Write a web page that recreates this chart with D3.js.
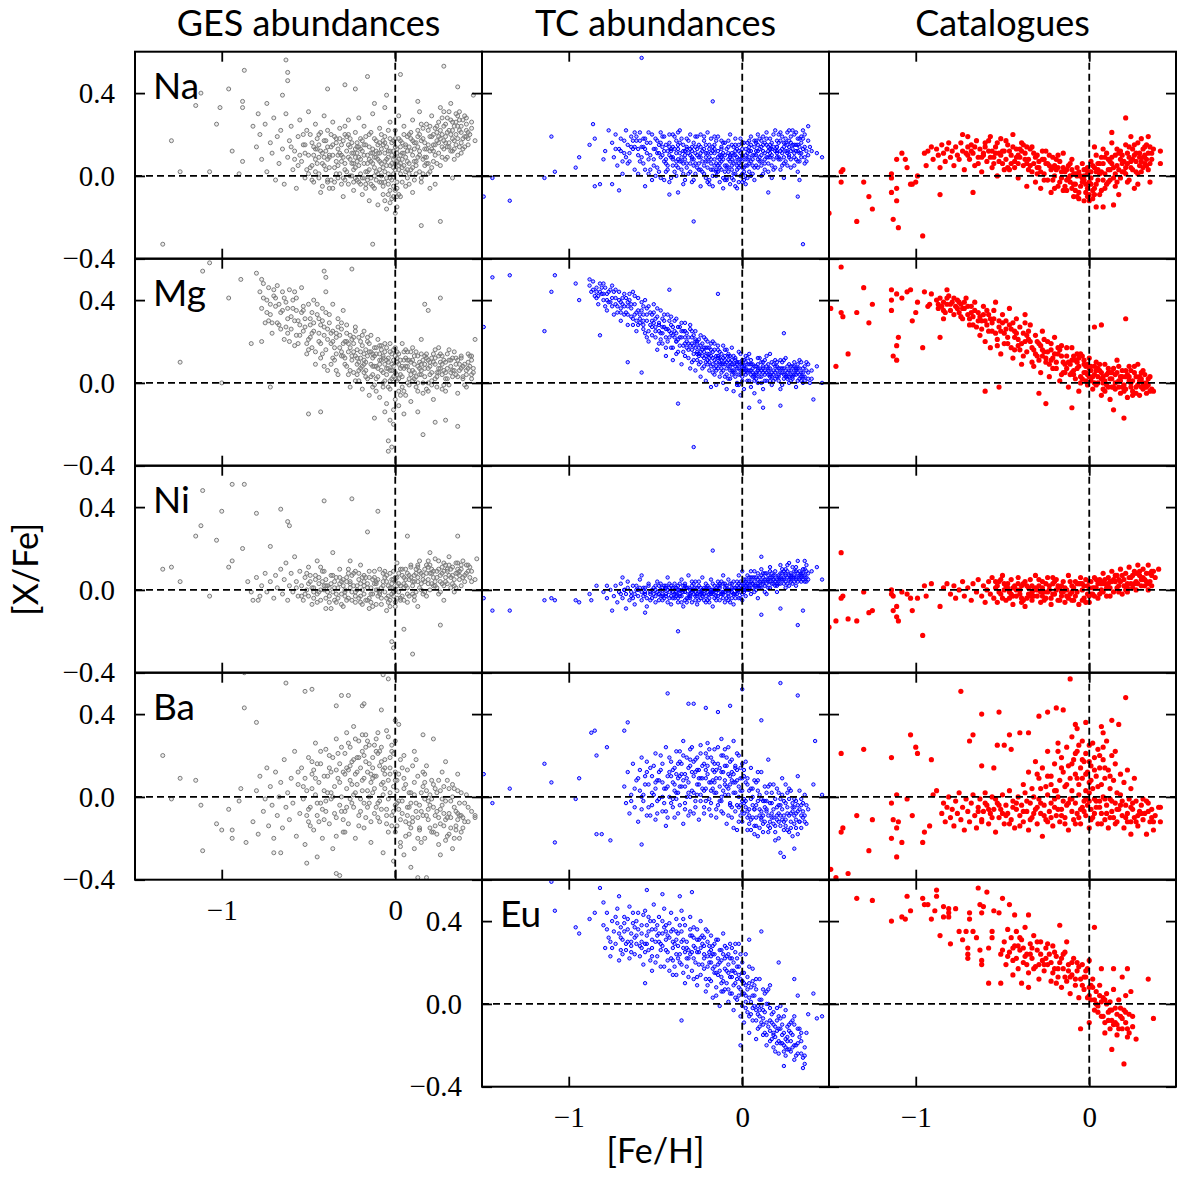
<!DOCTYPE html>
<html>
<head>
<meta charset="utf-8">
<script src="https://cdn.jsdelivr.net/npm/d3@7"></script>
<style>
  html, body { margin: 0; padding: 0; background: #fff; }
  svg { display: block; }
</style>
</head>
<body>
<script>
// Abundance ratios [X/Fe] against [Fe/H], stored as flat [feh, xfe, feh, xfe, ...] pairs in units of 0.01 dex.
const sources = ["GES abundances", "TC abundances", "Catalogues"];
const elements = ["Na", "Mg", "Ni", "Ba", "Eu"];
const xTicks = [-1, 0];
const yTicks = [-0.4, 0.0, 0.4];

const gesNa = [-129,17,-134,-33,-124,2,-107,2,-115,34,-112,40,-101,33,-103,25,-96,42,-87,51,-94,12,-88,33,-88,36,-63,56,-62,50,-62,46,-16,48,3,49,28,53,45,39,36,43,15,-24,26,-22,-13,-33,-39,42,-29,44,-23,42,-5,39,-6,33,-12,35,13,36,-65,39,-79,30,-82,24,-74,35,-88,7,-90,1,
-80,14,-78,20,-77,8,-75,25,-74,2,-72,16,-71,11,-70,28,-69,-2,-68,19,-67,6,-66,22,-65,13,-64,-4,-63,30,-62,9,-61,17,-60,24,-59,3,-58,12,-57,-6,-56,19,-55,27,-54,7,-53,15,-52,-1,-51,22,-50,10,-50,31,-49,4,
-48,16,-47,-3,-46,25,-46,8,-45,13,-44,1,-44,20,-43,-8,-42,11,-41,29,-41,5,-40,17,-39,-2,-39,22,-38,9,-37,14,-36,-6,-36,26,-35,4,-34,18,-33,10,-33,-1,-32,23,-31,7,-31,15,-30,-10,-29,3,-29,20,-28,12,-27,-4,-27,27,-26,8,-25,16,-25,0,
-24,11,-24,-7,-23,21,-23,4,-22,14,-22,-2,-21,9,-21,28,-20,1,-20,18,-19,-9,-19,12,-18,6,-18,24,-17,-4,-17,15,-16,2,-16,10,-15,-12,-15,20,-14,7,-14,-1,-13,13,-13,30,-12,4,-12,-6,-11,17,-11,9,-10,-14,-10,1,-9,23,-9,11,-8,-3,-8,6,-7,15,-7,-9,-6,2,-6,19,-5,8,-5,-16,-4,12,-4,-4,-3,5,-3,26,-2,-11,-2,10,-1,1,-1,17,0,-7,0,6,0,-18,0,22,
1,13,1,-3,2,8,2,29,3,-10,3,17,4,4,5,11,5,24,6,-5,6,15,7,7,8,20,8,1,9,12,10,27,10,-8,11,16,12,5,13,22,14,10,14,31,15,-3,16,18,17,13,18,25,19,6,20,19,21,29,22,12,23,-4,24,21,25,16,26,33,27,9,28,24,29,19,30,28,31,14,32,35,33,22,34,8,35,26,36,18,37,31,38,24,40,14,41,28,42,21,44,26,46,17,33,-1,20,-6,-6,-12,-3,-13,1,-15,-1,-10,
-43,12,-38,4,-35,19,-31,-4,-27,9,-22,16,-19,-1,-14,21,-9,3,-5,14,-1,-5,3,10,6,2,9,18,12,7,15,25,18,13,21,4,24,17,27,28,30,21,33,12,36,24,39,18,
-45,6,-41,17,-37,-2,-33,13,-29,24,-26,0,-23,9,-20,13,-17,-6,-13,6,-10,15,-7,4,-4,22,-2,-2,1,7,4,16,7,-1,10,10,13,19,16,8,19,22,22,15,25,26,28,13,31,31,34,17,37,22,40,29,43,20,
-47,10,-42,-5,-39,14,-34,7,-30,17,-28,2,-25,11,-21,-3,-18,10,-15,3,-12,18,-8,0,-6,11,-3,-7,0,9,2,18,5,5,8,14,11,-2,14,12,17,5,20,24,23,10,26,18,29,25,32,12,35,30,38,16,41,22,
-49,20,-44,9,-40,3,-36,15,-32,1,-28,19,-24,6,-21,14,-16,-2,-13,11,-11,2,-8,20,-5,-1,-3,12,-1,4,1,-6,3,14,6,9,9,3,12,16,15,-1,18,9,21,19,24,6,27,20,30,14,33,26,36,10,39,27,42,15,
-46,2,-43,21,-39,8,-35,-3,-32,11,-29,6,-26,14,-23,-1,-20,8,-17,19,-14,-4,-11,12,-9,7,-7,-5,-4,9,-2,16,0,3,2,-9,4,11,7,19,10,4,13,14,16,23,19,1,22,20,25,11,28,17,31,22,34,13,37,27,40,19,44,23,
-52,15,-48,5,-45,18,-41,9,-38,-6,-34,16,-31,10,-27,15,-24,3,-22,7,-19,17,-16,6,-13,-5,-10,8,-8,13,-6,-3,-3,18,-1,8,1,11,3,1,5,20,8,6,11,13,14,2,17,16,20,12,23,23,26,5,29,16,32,20,35,15,38,21,41,25,
-55,10,-51,3,-47,14,-44,-1,-40,12,-37,20,-33,5,-30,-1,-26,18,-23,13,-20,-4,-17,2,-15,14,-12,9,-9,-3,-6,16,-4,1,-2,6,0,14,2,3,4,-3,7,12,9,21,12,1,15,17,18,6,21,13,24,24,27,14,30,9,33,18,36,29,39,13,
-58,8,-53,20,-50,1,-46,13,-42,6,-39,-3,-36,10,-32,18,-29,-2,-25,6,-22,11,-18,-1,-15,8,-12,0,-10,11,-7,17,-5,5,-3,-1,0,18,1,-10,3,6,6,14,8,-4,11,7,14,20,17,9,20,2,23,15,26,22,29,8,32,27,35,20,38,11,42,18,
-60,14,-56,5,-52,11,-48,-2,-44,15,-38,10,-34,1,-30,9,-27,20,-24,-3,-21,5,-18,15,-14,11,-11,-2,-9,16,-6,7,-4,-9,-1,12,2,5,4,8,7,3,10,17,13,9,16,1,19,15,22,7,25,19,28,31,31,16,34,24,37,14,41,19];

const gesMg = [-107,58,-111,54,-124,10,-96,41,-100,0,-89,50,-80,53,-77,50,-83,19,-77,20,-72,-2,-50,-15,-43,-14,-25,55,-41,54,-40,51,-12,-17,-4,-28,-4,-33,-2,-31,16,-25,23,-19,29,-18,36,-21,26,41,17,38,19,35,46,21,43,13,44,4,13,-14,
-78,44,-77,36,-76,48,-75,29,-74,40,-73,46,-72,33,-71,24,-70,42,-69,37,-68,47,-67,28,-66,34,-65,44,-64,21,-63,39,-62,31,-61,45,-60,26,-59,36,-58,18,-57,41,-56,30,-55,23,-54,46,-53,35,-52,27,-51,14,-50,38,-50,21,
-49,31,-48,17,-47,40,-47,25,-46,9,-45,33,-44,20,-43,28,-43,12,-42,36,-41,23,-40,16,-40,44,-39,6,-38,29,-37,19,-36,25,-36,38,-35,11,-34,22,-33,31,-33,4,-32,17,-31,26,-30,13,-30,35,-29,20,-28,8,-28,28,-27,15,-26,-2,-26,23,-25,11,
-24,19,-24,5,-23,13,-23,27,-22,9,-22,16,-21,1,-21,22,-20,12,-20,7,-19,18,-19,-3,-18,14,-18,25,-17,6,-17,10,-16,20,-16,2,-15,15,-15,-6,-14,9,-14,23,-13,12,-13,4,-12,17,-12,-1,-11,8,-11,14,-10,21,-10,3,-9,11,-9,-7,-8,6,-8,16,-7,13,-7,0,-6,9,-6,19,-5,4,-5,-10,-4,12,-4,7,-3,-3,-3,15,-2,9,-2,2,-1,-13,-1,11,0,5,0,17,0,-8,-1,-20,
1,10,1,1,2,14,2,-4,3,7,4,19,4,3,5,11,6,-6,6,8,7,15,8,2,8,11,9,-9,10,6,10,17,11,9,12,-2,13,13,14,4,15,9,15,21,16,-5,17,7,18,14,19,0,20,10,21,5,22,-8,23,12,24,3,25,17,26,7,27,-3,28,11,29,5,30,14,31,-1,32,8,33,3,34,15,35,9,36,-5,37,6,38,12,39,2,40,9,41,-2,42,7,44,11,45,5,-6,-14,-3,-18,2,-11,5,-15,
-72,38,-68,29,-64,41,-60,32,-57,23,-53,37,-49,28,-46,15,-42,30,-39,21,-36,12,-33,27,-30,19,-27,4,-24,22,-22,12,-19,8,-17,16,-14,3,-12,13,-10,7,-8,18,-6,1,-4,10,-2,14,0,2,2,9,4,-2,6,12,8,6,10,1,12,15,14,7,16,11,18,-3,20,8,22,14,24,5,26,10,28,-1,30,7,33,12,36,3,39,8,42,14,
-74,34,-70,45,-66,26,-62,36,-58,44,-55,28,-51,19,-48,34,-44,24,-41,8,-38,33,-35,17,-32,23,-29,9,-26,17,-23,25,-21,6,-18,11,-16,22,-13,8,-11,-4,-9,14,-7,5,-5,17,-3,1,-1,8,1,12,3,4,5,15,7,0,9,10,11,5,13,-4,15,14,17,3,19,11,21,-1,23,9,25,13,27,4,29,10,31,16,34,6,37,9,40,-1,43,8,
-76,41,-71,29,-67,38,-63,27,-59,40,-56,19,-52,31,-49,22,-45,38,-42,14,-39,26,-36,20,-34,6,-31,15,-28,24,-25,13,-23,1,-20,15,-18,5,-15,19,-13,14,-11,2,-8,11,-6,15,-4,-2,-2,6,0,13,2,2,4,8,6,16,8,-1,10,11,12,3,14,10,16,0,18,12,20,4,22,10,24,-2,26,14,28,6,30,2,32,11,35,4,38,13,41,6,44,2,
-73,30,-69,41,-65,35,-61,20,-58,30,-54,34,-50,16,-47,29,-43,19,-40,34,-37,9,-34,24,-31,13,-28,20,-26,6,-24,15,-21,10,-19,23,-17,3,-14,15,-12,8,-9,18,-7,-2,-5,11,-3,6,-1,16,1,4,3,11,5,-4,7,8,9,15,11,2,13,8,15,4,17,13,19,7,21,1,23,16,25,5,27,9,29,-4,31,11,33,6,36,11,39,3,42,10,45,7,
-62,24,-57,35,-53,25,-48,24,-44,31,-41,27,-37,24,-34,14,-31,29,-29,12,-27,19,-25,21,-22,4,-20,20,-18,9,-16,13,-13,-2,-11,17,-9,9,-7,12,-5,7,-3,19,-1,3,1,15,3,-6,5,7,7,11,9,4,11,13,13,0,15,6,17,9,19,-4,21,12,23,2,25,7,27,13,29,2,32,5,35,12,38,7,41,4,44,13];

const gesNi = [-94,51,-87,51,-111,48,-100,38,-112,31,-115,26,-103,24,-134,10,-129,11,-124,4,-107,-3,-94,14,-96,11,-88,20,-80,37,-72,21,-66,39,-62,33,-61,31,-41,43,-25,44,-10,38,-16,28,7,26,20,18,36,26,47,15,26,-17,10,-31,5,-19,-2,-25,-1,-28,-82,-5,-79,-5,
-85,4,-83,-1,-80,6,-78,-3,-77,2,-75,8,-74,-1,-72,4,-70,-4,-69,7,-68,1,-66,10,-65,-2,-64,5,-63,13,-62,-5,-61,2,-60,8,-59,-1,-58,16,-57,4,-56,-3,-55,9,
-54,2,-53,-5,-52,6,-51,0,-50,11,-50,-3,-49,4,-48,-7,-47,1,-46,7,-45,-2,-45,14,-44,3,-43,-5,-42,9,-41,0,-40,-9,-40,5,-39,2,-38,-3,-37,7,-36,-1,-36,18,-35,4,-34,-6,-33,1,-32,10,-31,-2,-30,5,-30,-8,-29,0,-28,6,-27,-4,-26,3,-26,14,-25,-1,-24,8,-23,-6,-22,2,-21,5,-20,-3,-20,12,-19,0,-18,7,-17,-5,-16,3,-15,-9,-15,9,-14,1,-13,-2,-12,6,-11,-7,-11,3,-10,0,-9,10,-8,-4,-7,4,-6,-1,-5,7,-5,-10,-4,2,-3,-5,-2,5,-2,-2,-1,9,0,0,0,-6,0,4,1,13,
2,3,3,-4,4,7,5,1,6,10,7,-2,8,5,9,12,10,2,11,-5,12,8,13,4,14,14,15,0,16,7,17,10,18,-3,19,5,20,12,21,8,22,2,23,15,24,6,25,10,26,-1,27,8,28,13,29,4,30,9,31,16,32,6,33,11,34,2,35,8,36,13,37,5,38,10,40,7,42,12,44,9,46,5,13,-8,28,-5,
-50,3,-47,-4,-44,6,-41,2,-38,-6,-35,1,-32,6,-29,-3,-26,4,-23,-1,-21,8,-18,2,-16,-5,-13,5,-11,0,-8,-7,-6,6,-3,1,-1,-3,1,6,3,2,5,-5,7,8,10,4,12,-1,14,9,17,4,19,11,21,3,24,9,26,4,29,12,31,7,34,5,36,10,39,6,42,9,
-48,1,-45,-6,-42,4,-39,-1,-36,7,-33,-4,-30,2,-27,8,-25,-5,-22,0,-19,-7,-17,6,-14,-2,-12,3,-9,-1,-7,8,-4,-6,-2,3,0,6,2,-1,4,10,6,5,8,-3,11,7,13,12,15,3,18,8,20,0,22,6,25,14,27,3,30,10,32,1,35,13,37,9,40,4,43,11,
-46,5,-43,0,-40,-4,-37,3,-34,-2,-31,-7,-28,4,-25,7,-23,-3,-20,3,-18,-2,-15,6,-13,-8,-10,5,-8,1,-5,-4,-3,8,-1,-1,1,2,3,-5,5,6,7,1,9,11,11,4,13,6,16,-2,18,12,20,8,23,4,25,-2,28,9,30,3,33,7,35,1,38,12,41,8,44,4,
-52,-2,-49,7,-44,-1,-41,9,-38,1,-35,-5,-32,3,-29,-1,-27,10,-24,2,-21,-4,-19,6,-16,1,-14,-6,-11,4,-9,-2,-6,9,-4,-3,-2,1,0,-8,2,8,4,-3,6,2,8,7,10,-2,12,10,14,1,16,5,19,14,21,10,23,2,26,7,28,2,31,12,33,3,36,8,38,2,41,12,
-57,1,-54,-3,-51,8,-47,-1,-43,11,-40,2,-37,-9,-34,6,-31,4,-28,-5,-26,1,-23,9,-20,-6,-18,4,-15,-4,-12,9,-10,-3,-7,2,-5,4,-3,-8,-1,5,1,-4,3,10,5,3,7,-6,9,6,11,-3,13,11,15,8,17,-1,19,3,22,9,24,1,27,11,29,6,32,10,34,-1,37,7,39,14,43,6];

const gesBa = [-87,60,-87,43,-80,36,-63,55,-52,51,-48,52,-31,49,-27,49,-34,44,-19,44,-18,45,-7,59,-4,57,-8,42,-134,20,-124,9,-115,8,-129,-1,-112,-4,-111,-26,-103,-13,-100,-16,-94,-16,-94,-20,-96,-6,-89,4,-90,-2,-86,-22,-51,-32,-45,-29,-34,-37,-32,-38,13,-39,18,-39,9,-34,26,-28,29,17,36,11,46,-9,16,30,22,28,0,37,2,35,-70,-27,-66,-27,
-82,-12,-80,3,-79,-18,-78,10,-76,-7,-75,-1,-74,14,-73,-14,-72,5,-71,-4,-70,-20,-69,12,-68,-9,-67,0,-66,7,-65,-15,-64,18,-63,-5,-62,2,-61,-11,-60,9,
-59,-3,-58,22,-57,-19,-56,6,-55,-8,-54,14,-53,-1,-52,-23,-52,9,-51,3,-50,-12,-50,19,-49,-5,-48,11,-47,-16,-46,26,-46,1,-45,-9,-44,7,-43,16,-43,-3,-42,-20,-41,10,-40,-7,-40,23,-39,2,-38,-13,-38,14,-37,-1,-36,19,-36,-25,-35,5,-34,-10,-34,28,-33,9,-32,-4,-32,16,-31,0,-30,-17,-30,12,
-29,21,-29,-7,-28,4,-28,31,-27,13,-27,-13,-26,8,-26,24,-25,-3,-25,17,-24,1,-24,34,-23,11,-23,-20,-22,19,-22,6,-21,-9,-21,27,-20,14,-20,-1,-19,22,-19,3,-18,-15,-18,9,-17,17,-17,30,-16,-5,-16,12,-15,25,-15,0,-14,7,-14,-22,-13,19,-13,14,-12,-8,-12,4,-11,28,-11,10,-10,-3,-10,21,-9,15,-9,-12,-8,6,-8,24,-7,1,-7,-27,-6,11,-6,18,-5,-6,-5,32,-4,8,-4,-17,-3,14,-3,2,-2,22,-2,-9,-1,5,-1,-31,0,12,0,-4,0,27,
1,-14,1,8,2,-2,3,18,3,-22,4,-8,5,4,5,-28,6,-12,7,13,8,-5,8,-18,9,2,10,-10,11,22,11,-25,12,-3,13,10,14,-15,15,-7,16,5,17,-20,17,-1,18,15,19,-11,20,-4,21,8,22,-17,23,-9,24,2,25,-23,26,-6,27,12,28,-14,29,-2,30,-19,31,4,32,-10,33,-25,34,-5,35,-14,36,3,37,-20,38,-9,39,-15,40,-3,42,-12,44,-7,46,-10,
-48,4,-45,16,-42,-6,-39,10,-36,0,-33,21,-30,-11,-28,14,-25,6,-23,28,-20,-7,-18,20,-16,3,-14,11,-12,25,-10,-10,-8,17,-6,4,-4,29,-2,-14,0,8,2,-6,4,14,6,-19,8,2,10,-12,12,18,14,-4,16,-9,18,3,20,-15,22,6,24,-7,26,-13,28,5,30,-10,32,-2,34,-20,36,-8,38,2,40,-12,
-50,-6,-47,13,-44,-12,-41,3,-38,20,-35,-8,-32,7,-29,-17,-27,26,-24,-5,-22,12,-19,30,-17,-10,-15,16,-13,2,-11,22,-9,-2,-7,13,-5,-13,-3,19,-1,-7,1,3,3,-11,5,20,7,-9,9,-3,11,7,13,-20,15,2,17,11,19,-6,21,-1,23,-14,25,8,27,-4,29,-11,31,-18,33,0,35,-7,37,-3,39,-10,
-53,5,-49,-14,-46,9,-43,22,-40,-2,-37,12,-34,-19,-31,24,-28,-5,-26,15,-23,2,-21,19,-18,-3,-16,27,-14,-12,-12,10,-10,31,-8,-6,-6,14,-4,-1,-2,25,0,-17,2,11,4,-2,6,6,8,-13,10,15,12,-7,14,-16,16,12,18,-9,20,1,22,-5,24,-18,26,3,28,-8,30,8,32,-15,34,4,36,-11,38,-17,42,-5,
-56,12,-51,-9,-48,17,-45,-3,-41,-11,-37,2,-34,13,-31,-7,-29,11,-26,-1,-24,18,-21,-14,-19,8,-17,24,-15,-3,-13,9,-11,-5,-9,22,-7,7,-5,-9,-3,11,-1,21,1,-3,3,-24,5,9,7,-5,9,-15,11,1,13,-10,15,-22,17,7,19,-2,21,-17,23,4,25,-10,27,-1,29,-21,31,-8,33,6,35,-16,37,-9,41,1];

const tcNa = [-58,57,-17,36,-110,19,-108,2,-96,4,-94,9,-149,-10,-144,-1,-134,-12,-114,-1,-28,-22,32,-10,35,-33,15,-8,46,9,43,11,38,24,-85,-5,-82,-4,-75,-4,-71,-7,-56,-5,-42,-9,-37,-8,-85,18,-86,25,-88,15,-79,12,-77,22,-80,8,
-75,16,-74,9,-73,20,-72,5,-71,13,-70,18,-69,1,-68,11,-67,22,-66,15,-65,7,-64,19,-63,13,-62,3,-61,17,-60,10,-59,21,-58,14,-57,6,-56,18,-55,11,-54,1,-53,16,-52,20,-51,8,-50,13,
-49,17,-49,4,-48,11,-47,21,-47,-1,-46,14,-45,7,-45,19,-44,2,-43,12,-42,16,-42,-3,-41,9,-40,20,-40,5,-39,13,-38,0,-38,17,-37,8,-36,11,-36,22,-35,3,-34,15,-34,-4,-33,10,-32,18,-32,6,-31,1,-30,13,-30,20,-29,8,-28,-2,-28,16,-27,11,-26,4,-26,19,-25,9,-24,14,-24,-5,-23,7,-22,17,-22,1,-21,11,-20,4,-20,21,
-19,13,-19,-2,-18,8,-18,18,-17,3,-17,-5,-16,11,-16,15,-15,6,-15,0,-14,19,-14,9,-13,-3,-13,4,-12,13,-12,7,-11,-6,-11,16,-10,2,-10,10,-9,5,-9,-1,-8,14,-8,8,-7,-4,-7,20,-6,3,-6,11,-5,6,-5,-2,-4,15,-4,1,-3,9,-3,-6,-2,12,-2,4,-1,0,-1,18,0,7,0,-3,0,13,1,2,
2,10,2,-4,3,16,3,5,4,12,5,0,5,19,6,8,7,14,7,-2,8,10,9,20,9,4,10,13,11,7,11,17,12,1,13,11,14,21,14,15,15,6,16,18,17,10,17,-1,18,14,19,22,20,9,21,16,22,3,22,12,23,19,24,14,25,7,26,21,26,11,27,17,28,4,29,13,30,20,30,9,31,15,32,2,33,18,34,11,35,22,36,14,37,7,38,17,40,12,33,-2,24,-1,
-70,12,-66,6,-63,17,-60,1,-57,14,-54,21,-51,5,-48,15,-45,-2,-42,10,-39,19,-37,4,-34,12,-31,17,-29,-3,-26,10,-24,20,-21,7,-19,15,-17,0,-14,12,-12,3,-10,16,-7,9,-5,1,-3,13,-1,5,1,16,3,-1,5,12,8,5,10,18,13,8,15,14,18,3,20,17,23,11,26,5,28,19,31,12,34,16,36,9,
-68,17,-65,11,-62,21,-59,7,-56,13,-53,3,-50,18,-47,9,-44,15,-41,-1,-38,11,-35,18,-33,8,-30,2,-27,14,-25,6,-22,13,-20,-3,-18,11,-15,17,-13,6,-11,-1,-9,13,-6,8,-4,18,-2,-3,0,10,2,5,4,17,6,1,9,12,11,5,14,18,16,11,19,4,21,20,24,9,27,14,29,22,32,7,35,18,37,12,
-73,13,-69,7,-64,14,-61,19,-58,9,-55,16,-52,-2,-49,11,-46,19,-43,5,-40,14,-37,21,-34,1,-32,13,-29,9,-27,19,-24,3,-21,15,-19,-4,-16,8,-14,2,-12,17,-9,-2,-7,10,-5,14,-3,3,-1,11,1,-2,3,8,5,15,7,4,10,9,12,19,15,2,17,13,20,12,22,21,25,16,27,9,30,15,33,11,36,20,39,14,
-67,9,-62,14,-59,17,-56,3,-53,10,-50,0,-47,16,-44,8,-41,13,-38,5,-36,16,-33,-2,-30,10,-28,5,-25,15,-23,12,-21,-1,-18,3,-16,19,-13,10,-11,8,-8,4,-6,15,-4,-5,-2,8,0,16,2,0,4,6,7,17,9,8,11,14,13,3,16,15,18,20,21,9,23,5,26,15,28,12,31,21,33,7,35,13,38,10,
-60,13,-57,18,-54,8,-51,13,-48,2,-45,12,-42,20,-40,8,-37,13,-35,7,-32,14,-29,14,-27,1,-24,9,-22,19,-20,7,-17,14,-15,3,-12,10,-10,5,-8,17,-6,-1,-4,7,-2,15,0,1,2,13,4,2,6,10,8,16,11,0,13,16,15,9,17,5,20,14,22,8,25,12,27,22,30,5,32,15,34,19,36,6,
-44,6,-41,12,-38,7,-35,9,-32,4,-29,12,-27,6,-24,11,-22,5,-19,9,-17,12,-15,2,-13,8,-11,11,-9,4,-7,7,-5,10,-3,5,-1,8,1,4,3,11,5,7,7,10,9,15,11,10,13,6,15,12,17,16,19,12,21,8,23,13,25,18,27,10,29,15,31,8,33,14,
-46,10,-43,3,-40,9,-37,15,-34,6,-31,11,-28,8,-26,13,-23,2,-21,9,-18,6,-16,13,-14,5,-12,9,-10,-2,-8,11,-6,5,-4,10,-2,6,0,4,2,8,4,14,6,5,8,12,10,7,12,15,14,9,16,13,18,8,20,14,22,17,24,6,26,12,28,16,30,11,32,18,34,9,
-42,14,-39,2,-36,7,-33,12,-30,6,-25,3,-20,11,-16,5,-12,14,-8,2,-4,12,0,9,4,9,8,17,12,12,16,9,20,11,24,16,28,8,32,12];

const tcMg = [-144,51,-134,52,-108,52,-110,44,-149,27,-114,25,-96,48,-94,40,-82,23,-66,10,-58,5,-37,-10,-28,-31,-14,43,-42,45,24,24,41,-8,43,8,46,0,4,-12,12,-12,22,-11,10,-9,
-88,47,-87,44,-86,49,-85,42,-84,46,-83,38,-82,48,-81,43,-80,40,-79,46,-78,35,-77,44,-76,39,-75,47,-74,33,-73,41,-72,37,-71,44,-70,30,-69,38,-68,43,-67,34,-66,28,-65,40,-64,36,-63,31,-62,42,-61,25,-60,35,
-59,29,-58,39,-57,33,-56,24,-55,36,-55,30,-54,20,-53,34,-52,27,-51,38,-50,22,-50,31,-49,16,-48,28,-47,35,-47,24,-46,19,-45,30,-44,26,-44,13,-43,33,-42,22,-41,28,-41,17,-40,11,-39,25,-38,31,-38,20,-37,15,-36,27,-35,22,-35,9,-34,18,-33,29,-33,13,-32,24,-31,19,-30,7,-30,26,
-29,16,-29,22,-28,11,-28,18,-27,25,-27,6,-26,14,-26,20,-25,9,-25,17,-24,3,-24,23,-23,13,-23,19,-22,8,-22,15,-21,1,-21,21,-20,11,-20,17,-19,6,-19,14,-18,-2,-18,19,-17,9,-17,12,-16,4,-16,16,-15,10,-15,-1,-14,7,-14,18,-13,3,-13,12,-12,9,-12,14,-11,0,-11,6,-10,11,-10,16,-9,4,-9,-3,-8,8,-8,13,-7,2,-7,10,-6,6,-6,17,-5,-4,-5,9,-4,3,-4,12,-3,7,-3,-1,-2,10,-2,4,-1,14,-1,-6,0,6,0,1,0,11,
1,8,1,-3,2,4,2,13,3,1,3,9,4,6,5,-2,5,11,6,3,7,8,7,-5,8,5,9,12,9,0,10,7,11,3,12,10,12,-3,13,6,14,1,15,9,16,4,16,14,17,-1,18,6,19,2,20,10,21,4,22,-3,23,7,24,2,25,12,26,5,27,0,28,8,29,3,30,6,31,-2,32,9,33,4,34,1,35,7,36,3,38,5,40,2,37,10,
-86,45,-83,42,-80,48,-77,39,-74,44,-72,34,-69,41,-66,37,-63,44,-61,30,-58,35,-56,40,-53,28,-51,34,-48,25,-46,31,-43,20,-41,32,-39,22,-37,27,-34,15,-32,20,-30,28,-28,14,-26,19,-24,10,-22,22,-20,14,-18,8,-16,19,-14,12,-12,5,-10,13,-8,2,-6,11,-4,8,-2,15,0,3,2,10,4,1,6,9,8,2,10,12,12,5,14,8,16,1,18,9,20,3,22,7,24,11,26,2,28,6,30,10,32,1,34,5,36,8,38,2,40,6,
-88,50,-84,41,-81,46,-78,43,-75,37,-73,45,-70,36,-67,41,-64,32,-62,38,-59,33,-57,26,-54,37,-52,23,-49,32,-47,21,-45,27,-42,30,-40,17,-38,24,-35,29,-33,19,-31,12,-29,25,-27,17,-25,21,-23,7,-21,17,-19,10,-17,20,-15,6,-13,15,-11,9,-9,16,-7,6,-5,13,-3,0,-1,9,1,5,3,12,5,4,7,1,9,9,11,0,13,11,15,6,17,3,19,11,21,7,23,-1,25,4,27,9,29,2,31,7,33,11,35,3,37,6,39,0,
-82,44,-79,37,-76,45,-71,40,-68,33,-65,43,-62,33,-60,28,-57,37,-55,22,-52,33,-50,27,-48,19,-45,33,-43,26,-40,23,-38,14,-36,22,-33,25,-31,16,-28,23,-26,11,-24,18,-22,12,-20,20,-18,13,-16,7,-14,16,-12,11,-10,3,-8,14,-6,4,-4,11,-2,-1,0,9,2,7,4,14,6,5,8,8,10,3,12,7,14,13,16,7,18,1,20,6,22,11,24,4,26,8,28,1,30,4,32,7,34,10,36,1,38,9,
-70,34,-66,39,-63,28,-60,41,-57,30,-54,25,-51,29,-49,36,-46,24,-44,17,-41,24,-39,30,-36,18,-34,25,-31,22,-29,10,-27,21,-25,13,-23,16,-21,10,-19,17,-17,5,-15,13,-13,9,-11,18,-9,7,-7,13,-5,5,-3,10,-1,4,1,11,3,6,5,9,7,3,9,6,11,10,13,1,15,4,17,10,19,5,21,1,23,10,25,6,27,3,29,8,31,4,33,7,35,0,
-84,44,-78,40,-73,38,-68,37,-64,38,-59,31,-55,33,-50,25,-46,27,-42,25,-38,20,-35,25,-32,17,-29,19,-26,15,-24,15,-21,13,-19,12,-17,15,-15,8,-13,10,-11,12,-9,10,-7,8,-5,6,-3,9,-1,6,1,7,3,5,5,6,7,4,9,7,11,6,13,4,15,7,17,5,19,8,21,3,23,5,25,3,27,6,29,4,31,6,33,2,35,5,
-80,43,-75,41,-70,39,-66,33,-61,34,-57,28,-52,30,-48,29,-44,22,-40,27,-37,21,-33,22,-30,18,-27,20,-25,14,-22,17,-20,9,-18,16,-16,11,-14,13,-12,7,-10,9,-8,11,-6,9,-4,5,-2,7,0,8,2,6,4,9,6,7,8,4,10,5,12,8,14,5,16,3,18,4,20,8,22,5,24,7,26,3,28,4,30,8,32,5,34,3];

const tcNi = [-17,19,11,16,-149,-4,-144,-10,-134,-10,-114,-5,-110,-4,-108,-5,-96,-5,-94,-6,-87,-5,-75,-10,-67,-9,-56,-11,-37,-20,11,-12,22,-9,35,-10,32,-17,46,5,43,11,36,14,26,12,-88,-2,-84,2,-78,2,-69,6,-58,7,
-80,-1,-78,-4,-76,0,-74,-3,-73,2,-72,-6,-71,-1,-70,3,-69,-4,-68,0,-67,-2,-66,4,-65,-5,-64,-1,-63,2,-62,-7,-61,0,-60,-3,-59,5,-58,-5,-57,1,-56,-2,-55,-8,-54,3,-53,-1,-52,-4,-51,1,-50,-6,-49,4,-48,-2,-47,0,-46,-5,-45,2,-44,-3,-43,6,-42,-1,-41,-7,-40,1,
-39,-4,-39,3,-38,-1,-37,-6,-37,2,-36,0,-35,-3,-35,5,-34,-8,-33,-1,-33,3,-32,-4,-31,1,-31,7,-30,-2,-29,-6,-29,2,-28,0,-27,-3,-27,4,-26,-7,-25,-1,-25,2,-24,-4,-23,6,-23,0,-22,-2,-21,-6,-21,3,-20,-1,-19,1,-19,-4,-18,5,-17,-2,-17,-8,-16,2,-15,-3,-15,0,-14,4,-13,-5,-13,1,-12,-2,-11,3,-11,7,-10,-1,-10,-6,-9,2,-8,-3,-8,5,-7,0,-6,-4,-6,3,-5,1,-5,-7,-4,-2,-3,4,-3,0,-2,-4,-2,7,-1,2,-1,-1,0,-5,0,3,0,9,
1,0,1,5,2,-3,2,2,3,7,4,0,4,4,5,-2,5,9,6,3,7,6,7,-1,8,2,9,8,9,-4,10,4,11,1,11,10,12,6,13,2,14,8,14,-2,15,4,16,11,16,1,17,6,18,3,19,9,20,5,20,-1,21,7,22,12,22,3,23,8,24,5,25,1,25,10,26,6,27,13,28,4,28,8,29,11,30,6,31,2,31,9,32,14,33,7,34,4,35,10,36,7,37,12,38,5,40,9,
-70,-2,-66,1,-63,-4,-60,0,-57,-3,-54,2,-51,-2,-48,-5,-46,1,-44,-2,-42,3,-40,-4,-38,1,-36,-2,-34,2,-32,-6,-30,0,-28,3,-26,-3,-24,1,-22,-5,-20,2,-18,-1,-16,-4,-14,2,-12,-1,-10,3,-8,-2,-6,1,-4,-4,-2,3,0,0,2,5,4,2,6,6,8,0,10,6,12,3,14,5,16,9,18,5,20,2,22,8,24,3,26,9,28,6,30,4,32,8,34,6,36,10,38,8,
-68,0,-64,-3,-61,2,-58,-1,-55,-4,-52,0,-49,-1,-47,3,-45,-4,-43,0,-41,-3,-39,1,-37,-4,-35,0,-33,-5,-31,-2,-29,4,-27,-1,-25,-5,-23,-2,-21,0,-19,-6,-17,3,-15,-1,-13,3,-11,-4,-9,0,-7,-6,-5,4,-3,-2,-1,4,1,-1,3,3,5,6,7,2,9,5,11,7,13,-1,15,7,17,3,19,7,21,3,23,10,25,4,27,7,29,3,31,11,33,5,35,8,37,4,
-62,-2,-59,1,-56,-1,-53,-5,-50,2,-47,-3,-45,0,-43,-6,-41,2,-39,-2,-37,0,-35,-6,-33,2,-31,-4,-29,0,-27,-5,-25,4,-23,-3,-21,1,-19,-2,-17,0,-15,-5,-13,2,-11,-2,-9,-4,-7,3,-5,-2,-3,2,-1,-4,1,3,3,0,5,4,7,9,9,2,11,4,13,8,15,1,17,8,19,2,21,5,23,5,25,8,27,2,29,6,31,5,33,9,35,5,37,9,
-56,1,-53,-2,-50,-3,-48,2,-46,-2,-44,1,-42,-4,-40,-1,-38,-3,-36,3,-34,-1,-32,1,-30,-4,-28,-2,-26,1,-24,-2,-22,1,-20,-5,-18,-2,-16,0,-14,-3,-12,4,-10,1,-8,-5,-6,-1,-4,1,-2,0,0,-2,2,4,4,6,6,1,8,6,10,1,12,8,14,3,16,4,18,7,20,3,22,5,24,9,26,3,28,7,30,9,32,4,34,7,36,4,
-50,0,-46,-3,-42,1,-38,-2,-34,0,-30,-3,-27,1,-24,-1,-21,-3,-18,0,-15,1,-12,-2,-9,1,-6,-1,-3,0,0,1,3,2,6,3,9,3,12,4,15,5,18,5,21,6,24,6,27,5,30,7,33,6,36,6,
-48,-2,-44,2,-40,-1,-36,-3,-32,1,-29,-1,-26,-2,-23,0,-20,1,-17,-1,-14,0,-11,-1,-8,0,-5,-2,-2,1,1,1,4,1,7,4,10,2,13,5,16,6,19,4,22,6,25,7,28,5,31,6,34,8,37,6];

const tcBa = [22,55,32,49,0,52,-43,50,-31,45,-28,45,-21,43,-14,41,-7,44,-87,31,-85,32,-78,24,-114,16,-110,7,-149,11,-134,4,-144,-3,-96,-1,-94,9,-84,-18,-81,-18,-76,-21,-108,-22,-58,-23,24,-29,30,-25,22,-27,42,27,41,6,46,1,11,37,-66,36,-68,32,-84,20,
-68,5,-67,-3,-66,12,-65,-8,-64,1,-63,16,-62,-5,-61,8,-60,-12,-59,3,-58,19,-57,-2,-56,10,-55,-9,-54,6,-53,14,-52,-4,-51,1,-50,21,-50,-11,-49,8,-48,-1,-47,13,-46,-7,-45,4,-44,24,-44,-14,-43,10,-42,0,-41,17,-40,-5,-40,7,
-39,14,-39,-10,-38,2,-38,22,-37,9,-36,-4,-36,17,-35,5,-34,27,-34,-13,-33,11,-32,0,-32,19,-31,7,-30,-7,-30,15,-29,24,-29,3,-28,10,-27,-2,-27,18,-26,6,-25,13,-25,-11,-24,21,-24,1,-23,9,-22,-5,-22,16,-21,4,-20,26,-20,11,-19,-1,-19,7,-18,19,-18,-9,-17,13,-16,2,-16,23,-15,-6,-15,9,-14,16,-13,-2,-13,5,-12,28,-12,12,-11,-8,-11,20,-10,1,-10,8,
-9,15,-9,-13,-8,4,-8,24,-7,-4,-7,10,-6,18,-6,-10,-5,2,-5,27,-4,7,-4,-7,-3,13,-3,-16,-2,0,-2,20,-1,-4,-1,9,0,-12,0,16,0,3,
1,-8,1,10,2,-2,3,-16,3,6,4,-6,5,14,5,-11,6,0,7,-14,7,8,8,-4,9,-19,9,3,10,-9,11,12,11,-1,12,-13,13,5,14,-7,15,-17,15,18,16,-3,17,-10,18,6,19,-14,20,-5,21,2,21,-20,22,-9,23,9,24,-12,25,-3,26,-16,27,4,28,-8,29,-19,30,-1,31,-11,32,10,33,-6,34,-15,35,-3,36,-9,37,-13,38,-6,
-62,4,-58,-6,-55,12,-52,2,-49,-8,-46,16,-43,5,-41,-3,-38,11,-36,22,-33,-6,-31,14,-28,2,-26,19,-24,9,-22,-8,-20,15,-18,3,-16,12,-14,-4,-12,20,-10,6,-8,-9,-6,12,-4,2,-2,-12,0,9,2,-5,4,3,6,-10,8,7,10,-15,12,-2,14,2,16,-12,18,-6,20,4,22,-14,24,-2,26,-8,28,3,30,-13,32,-4,34,-9,36,1,
-60,9,-57,1,-54,-5,-51,15,-48,8,-45,-3,-42,19,-39,6,-37,-8,-35,16,-32,9,-30,23,-27,-5,-25,6,-23,15,-21,-2,-19,23,-17,8,-15,-10,-13,14,-11,3,-9,19,-7,-3,-5,7,-3,21,-1,-9,1,13,3,-7,5,-1,7,-18,9,8,11,-7,13,-12,15,5,17,-3,19,-17,21,-8,23,1,25,-11,27,-1,29,-7,31,-15,33,3,35,-10,37,-4,
-64,-2,-59,13,-56,6,-53,-9,-50,4,-47,20,-44,-7,-41,10,-38,-1,-36,5,-34,20,-31,-9,-29,12,-26,1,-24,25,-21,9,-19,-6,-17,17,-15,2,-12,-7,-10,23,-8,11,-6,-5,-4,15,-2,5,0,-7,2,17,4,-13,6,4,8,-10,10,1,12,-17,14,-6,16,6,18,-13,20,-9,22,-1,24,-16,26,2,28,-12,30,-5,32,-18,34,-1,36,-12,
-58,0,-55,17,-52,10,-49,-2,-46,7,-43,-10,-40,13,-37,2,-35,11,-33,-3,-30,18,-28,-8,-26,13,-23,4,-21,21,-18,-3,-16,7,-14,24,-12,-2,-9,5,-7,17,-5,-15,-3,8,-1,14,1,-3,3,9,5,-16,7,-6,9,12,11,-11,13,-2,15,-9,17,2,19,-21,21,-4,23,-11,25,6,27,-17,29,-5,31,-2,33,-12,35,-7,
-50,7,-46,0,-42,12,-39,3,-36,10,-33,5,-30,0,-28,17,-25,9,-22,3,-20,19,-17,4,-15,13,-12,0,-10,15,-7,6,-5,11,-3,-4,-1,3,1,-1,3,-10,5,4,7,-6,9,-2,11,-10,13,-5,15,-14,17,-8,19,-1,21,-12,23,-6,25,-14,27,-9,29,-3,31,-8,33,-12,
-48,12,-44,4,-40,-1,-37,16,-34,8,-31,2,-27,12,-24,-2,-21,13,-18,7,-16,16,-13,9,-11,12,-8,1,-6,8,-4,14,-2,-5,0,-2,2,7,4,-9,6,-4,8,-14,10,-6,12,-9,14,-2,16,-15,18,-10,20,-11,22,-4,24,-9,26,-5,28,-15,30,-9,32,-7,34,-4];

const tcEu = [-110,59,-108,45,-82,56,-96,37,-94,34,-88,41,-85,44,-80,49,-71,52,-55,55,-46,53,-29,54,-36,52,-35,-8,-56,10,-1,-20,24,-30,35,-31,36,-29,43,-7,46,-6,41,5,38,-5,30,12,21,20,11,35,4,31,32,4,
-80,38,-79,27,-78,44,-77,32,-76,23,-75,40,-74,35,-73,29,-72,46,-71,21,-70,37,-69,31,-68,42,-67,26,-66,36,-65,47,-64,30,-63,39,-62,24,-61,33,-60,44,
-59,28,-58,38,-57,19,-56,45,-55,33,-54,26,-53,40,-52,16,-52,31,-51,48,-50,36,-49,23,-48,42,-47,29,-46,34,-45,18,-45,46,-44,38,-43,25,-42,32,-41,44,-40,21,-40,36,
-39,29,-38,41,-38,14,-37,34,-36,24,-35,45,-35,19,-34,31,-33,38,-33,10,-32,27,-31,22,-30,42,-30,33,-29,16,-28,28,-28,37,-27,20,-26,9,-26,31,-25,25,-24,40,-24,14,-23,33,-22,22,-22,28,-21,6,-21,36,-20,18,-20,30,
-19,25,-19,12,-18,33,-18,20,-17,3,-17,28,-16,15,-16,24,-15,8,-15,31,-14,19,-13,-1,-13,26,-12,13,-12,21,-11,34,-11,6,-10,17,-10,28,-9,10,-9,23,-8,1,-8,19,-7,29,-7,13,-6,5,-6,22,-5,16,-5,-3,-4,25,-4,10,-3,18,-3,2,-2,14,-2,29,-1,7,-1,-6,0,20,0,11,0,-1,
1,15,1,-9,2,4,2,24,3,-4,4,10,4,-14,5,1,6,17,6,-8,7,-1,8,7,8,-17,9,-5,10,12,10,-11,11,2,12,-15,12,-3,13,5,14,-20,14,-9,15,0,16,-13,16,9,17,-5,18,-21,18,-10,19,-16,20,-2,21,-24,21,-12,22,-7,23,-19,24,-14,25,-25,25,-3,26,-18,27,-10,28,-23,29,-15,30,-27,30,-6,31,-20,32,-24,33,-12,34,-18,35,-26,36,-21,37,-14,
-76,30,-73,42,-70,26,-68,35,-65,22,-63,44,-61,29,-58,34,-56,25,-54,42,-52,36,-50,20,-48,30,-46,40,-44,31,-42,16,-40,30,-38,24,-36,38,-34,15,-32,30,-30,24,-28,12,-26,36,-24,27,-22,17,-20,35,-18,11,-16,29,-14,14,-12,26,-10,7,-8,24,-6,13,-4,29,-2,8,0,15,2,-2,4,18,6,4,8,-8,10,2,12,-10,14,6,16,-18,18,-4,20,-13,22,-19,24,-6,26,-22,28,-14,30,-20,32,-12,34,-24,
-78,36,-75,27,-72,39,-69,24,-66,41,-64,34,-62,37,-59,23,-57,43,-55,29,-53,21,-51,40,-49,33,-47,26,-45,37,-43,21,-41,35,-39,18,-37,28,-35,35,-33,25,-31,13,-29,33,-27,27,-25,19,-23,29,-21,12,-19,20,-17,24,-15,4,-13,20,-11,11,-9,27,-7,5,-5,20,-3,12,-1,24,1,5,3,13,5,-5,7,9,9,-12,11,-1,13,-14,15,7,17,-9,19,-23,21,-6,23,-10,25,-17,27,-22,29,-8,31,-25,33,-16,
-71,34,-67,29,-64,25,-61,40,-58,30,-55,38,-52,27,-49,38,-47,18,-44,26,-42,39,-40,14,-38,31,-36,20,-34,41,-32,18,-30,36,-28,22,-26,13,-24,32,-22,24,-20,9,-18,26,-16,18,-14,31,-12,6,-10,22,-8,15,-6,27,-4,3,-2,18,0,5,2,9,4,-6,6,11,8,-3,10,-6,12,7,14,-15,16,-2,18,-15,20,-8,22,-1,24,-20,26,-11,28,-18,30,-10,32,-19,34,-14,36,-25,
-70,32,-66,30,-62,32,-58,27,-54,35,-50,30,-46,28,-43,33,-40,27,-37,22,-34,27,-31,26,-28,32,-25,31,-22,32,-19,28,-17,17,-14,22,-12,10,-9,16,-7,22,-5,9,-3,22,-1,12,1,10,3,7,5,8,7,4,9,-1,11,-9,13,-4,15,-11,17,-17,19,-11,21,-18,23,-15,25,-21,27,-13,29,-21,
-68,39,-64,28,-60,36,-56,29,-52,23,-48,34,-44,35,-41,22,-38,35,-35,30,-32,22,-29,25,-26,25,-23,19,-20,23,-18,23,-15,15,-13,16,-11,24,-8,7,-6,16,-4,15,-2,4,0,11,2,1,4,3,6,-2,8,12,10,-3,12,-7,14,0,16,-8,18,-14,20,-19,22,-12,24,-23,26,-16,28,-9];

const catNa = [-150,-18,-143,2,-142,3,-143,-3,-134,-22,-130,-3,-127,-10,-125,-16,-114,1,-114,-1,-114,-8,-111,8,-111,-6,-111,-12,-113,-21,-110,-25,-108,11,-106,8,-105,4,-103,-4,-102,-4,-100,-3,-99,0,-96,-29,-95,11,-94,5,-86,-9,-67,-8,-73,20,-70,19,13,21,21,28,24,19,4,-15,8,-15,14,-14,3,14,41,12,41,6,34,19,30,18,
-93,12,-91,14,-90,8,-88,13,-87,10,-86,4,-85,15,-84,11,-83,7,-82,13,-81,16,-80,9,-79,12,-78,5,-77,14,-76,10,-75,8,-74,16,-73,12,-72,3,-71,11,-70,14,
-69,8,-68,15,-67,11,-66,5,-65,17,-64,9,-63,13,-62,2,-61,10,-60,16,-59,7,-58,12,-57,19,-56,4,-55,9,-54,14,-53,0,-52,11,-51,18,-50,6,-49,12,-48,8,-47,15,-46,3,-45,10,-44,20,-43,7,-42,13,-41,-1,-40,9,-39,16,-38,5,-37,11,-36,-5,-35,8,
-34,13,-33,2,-32,6,-31,-3,-30,10,-29,4,-28,-6,-27,8,-26,1,-25,12,-24,-2,-23,5,-22,-8,-21,9,-20,0,-19,3,-18,-5,-17,7,-16,-1,-15,11,-14,2,-13,-7,-12,5,-11,-3,-10,8,-9,-10,-9,1,-8,-4,-7,4,-6,-8,-5,0,-4,6,-3,-12,-3,-2,-2,3,-1,-6,0,-9,0,2,
1,7,1,-4,2,-11,3,4,4,10,5,-2,6,6,7,-7,8,13,9,1,10,-4,11,8,12,3,13,16,14,-1,15,10,16,5,17,-9,18,12,19,2,20,7,21,15,22,-3,23,9,24,4,25,13,26,-6,27,7,28,16,29,11,30,2,31,9,32,14,33,5,34,11,35,-3,36,8,37,13,
-68,12,-64,6,-60,14,-57,9,-53,16,-50,12,-47,4,-44,14,-41,10,-38,15,-35,3,-32,11,-29,7,-26,-2,-23,10,-20,5,-17,-3,-15,4,-12,-1,-10,3,-8,-7,-6,2,-4,-3,-2,-8,-1,4,1,-1,3,-6,5,6,7,2,9,9,11,-3,13,6,15,1,17,11,19,6,21,1,23,14,25,3,27,11,29,5,31,13,33,8,35,14,
-66,14,-62,9,-58,17,-55,6,-51,10,-48,17,-45,6,-42,9,-39,12,-36,6,-33,14,-30,4,-27,12,-24,6,-21,-2,-19,8,-16,2,-14,-5,-11,6,-9,-4,-7,0,-5,-5,-3,3,-1,-10,0,-3,2,5,4,-4,6,1,8,-2,10,11,12,7,14,4,16,-3,18,8,20,2,22,11,24,7,26,15,28,1,30,7,32,10,34,3,36,11,
-61,11,-56,12,-52,7,-49,3,-46,12,-43,4,-40,13,-37,8,-34,5,-31,9,-28,2,-25,6,-22,3,-20,-6,-18,4,-15,-7,-13,3,-10,-6,-8,1,-6,-11,-4,-1,-2,-4,0,-12,1,2,3,-9,5,3,7,9,9,-6,11,3,13,9,15,-5,17,3,19,10,21,4,23,-2,25,8,27,2,29,9,31,4,33,15,35,6,
-70,10,-54,11,-41,6,-36,14,-30,1,-26,8,-21,4,-18,10,-13,-2,-11,0,-7,-10,-3,0,-1,1,2,-7,4,2,6,-9,8,6,12,-2,16,13,18,-1,22,6,26,10,28,-4,32,6];

const catMg = [-143,56,-149,36,-143,34,-142,32,-139,14,-146,8,-134,34,-130,46,-127,29,-125,38,-114,45,-114,40,-114,35,-111,43,-113,13,-111,11,-110,22,-111,18,-108,41,-105,44,-103,45,-102,30,-100,34,-99,39,-96,17,-95,44,-91,43,-93,37,-92,38,-86,22,-84,31,-82,45,-60,-4,-52,-2,-25,-10,-10,-12,14,-13,20,-17,21,31,7,28,3,27,-29,-5,
-88,40,-87,36,-86,41,-85,37,-84,39,-83,34,-82,38,-81,42,-80,35,-79,39,-78,33,-77,37,-76,40,-75,34,-74,38,-73,31,-72,36,-71,41,-70,33,-69,28,-68,37,-67,32,-66,39,-65,27,
-64,34,-63,23,-62,30,-61,37,-60,20,-59,28,-58,33,-57,17,-56,25,-55,31,-54,39,-53,21,-52,27,-51,14,-50,33,-49,24,-48,30,-47,19,-46,36,-45,26,-44,12,-43,22,-42,31,-41,18,-40,27,-39,9,-38,24,-37,33,-36,15,-35,21,
-34,28,-33,17,-32,8,-31,23,-30,13,-29,19,-28,5,-27,25,-26,15,-25,10,-24,20,-23,3,-22,16,-21,12,-20,22,-19,7,-18,14,-17,1,-16,18,-15,10,-14,5,-13,13,-12,-2,-11,9,-10,17,-9,4,-8,11,-7,7,-6,-4,-5,14,-4,2,-3,9,-2,5,-1,-1,0,12,0,3,
1,8,2,-3,3,4,4,10,5,0,6,6,7,-6,8,3,9,9,10,-1,11,5,12,-8,13,2,14,7,15,-3,16,11,17,1,18,-5,19,6,20,-1,21,3,22,-7,23,8,24,0,25,-4,26,5,27,-2,28,9,29,-6,30,2,31,-3,32,4,33,-5,34,-1,35,3,37,-4,
-80,38,-76,36,-72,39,-68,34,-64,30,-61,33,-58,25,-55,35,-52,30,-49,19,-46,28,-43,25,-40,16,-37,29,-34,20,-31,14,-28,18,-25,12,-22,19,-19,10,-16,13,-13,7,-10,11,-8,2,-6,8,-4,13,-2,1,0,7,2,3,4,-1,6,9,8,-3,10,4,12,2,14,-2,16,5,18,1,20,-4,22,4,24,-2,26,8,28,-1,30,5,32,-2,34,2,36,-3,
-84,35,-78,41,-74,32,-70,37,-66,35,-62,26,-59,35,-56,29,-53,18,-50,29,-47,22,-44,29,-41,21,-38,13,-35,25,-32,16,-29,11,-26,21,-23,9,-20,14,-17,16,-14,9,-11,4,-9,13,-7,10,-5,3,-3,11,-1,4,1,6,3,0,5,7,7,2,9,-4,11,7,13,-2,15,4,17,8,19,-2,21,6,23,1,25,-6,27,3,29,1,31,6,33,0,35,-4,
-82,41,-73,36,-67,28,-63,32,-57,31,-54,24,-48,26,-45,17,-42,24,-39,19,-36,23,-33,10,-30,20,-27,13,-24,15,-21,7,-18,17,-15,5,-12,10,-9,6,-7,14,-5,0,-3,5,-1,9,1,1,3,8,5,3,7,5,9,1,11,-2,13,5,15,0,17,-2,19,3,21,-3,23,3,25,1,27,-5,29,3,31,0,33,-2,
-87,38,-75,39,-69,31,-60,30,-51,25,-43,16,-37,20,-27,16,-22,11,-16,4,-13,17,-10,5,-6,12,-2,8,4,6,8,0,12,5,18,3,24,6,30,-2];

const catNi = [-143,18,-143,-4,-142,-3,-146,-15,-150,-18,-139,-14,-134,-15,-130,-1,-127,-11,-125,-10,-114,0,-114,-2,-113,-3,-113,-10,-111,-8,-111,-13,-110,-15,-108,-1,-105,-2,-103,-4,-102,-10,-99,-4,-96,-22,-95,2,-91,3,-94,-3,-86,-8,-84,1,-82,3,
-80,-2,-78,2,-77,-4,-75,0,-73,4,-72,-3,-70,1,-68,-5,-67,3,-65,-1,-64,5,-62,-3,-61,2,-60,-6,-59,0,-58,4,-57,-2,-56,6,-55,-4,
-54,1,-53,-6,-52,4,-51,-2,-50,7,-49,0,-48,-5,-47,3,-46,-1,-45,5,-44,-7,-43,1,-42,-3,-41,6,-40,0,-39,-4,-38,3,-37,-8,-36,2,-35,-2,-34,5,-33,-5,-32,0,-31,7,-30,-3,-29,2,-28,-6,-27,4,-26,-1,-25,-4,-24,6,-23,0,-22,-7,-21,3,-20,-2,-19,5,-18,-5,-17,1,-16,-3,-15,4,-14,-6,-13,0,-12,7,-11,-2,-10,2,-9,-5,-8,4,-7,-1,-6,-7,-5,3,-4,0,-3,-4,-2,5,-1,-2,0,1,0,-6,
1,4,2,-2,3,6,4,1,5,-4,6,5,7,0,8,8,9,3,10,-3,11,6,12,1,13,9,14,-1,15,4,16,7,17,2,18,10,19,-2,20,5,21,8,22,3,23,11,24,6,25,1,26,9,27,4,28,12,29,7,30,2,31,10,32,5,33,8,34,12,35,4,36,9,38,6,40,10,34,0,
-52,-1,-49,3,-46,-4,-43,2,-40,-2,-37,4,-34,-3,-31,1,-28,-1,-25,3,-22,-4,-19,0,-16,2,-13,-3,-10,-1,-7,3,-4,-5,-1,2,2,1,5,3,8,-1,11,3,14,5,17,-1,20,2,23,6,26,3,29,9,32,2,35,8,
-54,4,-50,-4,-47,1,-44,-3,-41,3,-38,-5,-35,1,-32,-3,-29,5,-26,-5,-23,2,-20,4,-17,-5,-14,1,-11,4,-8,-3,-5,6,-2,-6,1,-2,4,5,7,4,10,1,13,4,16,1,19,7,22,1,25,7,28,3,31,6,34,3,37,9,
-53,2,-48,2,-45,-2,-42,0,-39,2,-36,-4,-33,2,-30,0,-27,-3,-24,-1,-21,-2,-18,2,-15,-1,-12,-4,-9,1,-6,3,-3,2,0,-3,3,1,6,-2,9,5,12,-3,15,7,18,4,21,0,24,3,27,8,30,5,33,4,36,7,
-51,5,-44,1,-39,-6,-33,-1,-27,1,-21,6,-16,-1,-10,-5,-4,3,0,4,3,-3,7,3,12,4,17,5,22,-1,27,0,31,5,36,2];

const catBa = [-11,57,-74,51,21,48,-62,40,-52,41,-29,39,-24,41,-19,43,-15,42,-103,30,-130,23,-143,21,-114,19,-100,24,-99,21,-91,18,-111,1,-105,-1,-114,-3,-143,-17,-142,-15,-134,-9,-125,-11,-127,-26,-114,-20,-113,-11,-111,-29,-111,-15,-110,-12,-108,-22,-102,-9,-96,-22,-95,-17,-92,-14,-149,-35,-146,-39,-139,-37,-90,1,-88,3,-67,30,-69,27,-46,30,-40,31,-35,31,-62,15,-55,14,-53,25,-49,25,-45,23,17,35,13,37,8,31,7,34,-7,33,-2,36,-8,35,33,-18,37,-16,41,-5,41,-12,24,-18,
-85,-8,-84,-3,-83,-12,-82,-5,-81,0,-80,-10,-79,-6,-78,-14,-77,-2,-76,-8,-75,2,-74,-11,-73,-5,-72,-16,-71,-1,-70,-7,-69,-12,-68,-3,-67,1,-66,-9,-65,-15,-64,-5,-63,-1,-62,-11,-61,-7,-60,2,-59,-4,-58,-13,-57,-8,-56,0,-55,-6,-54,-17,-53,-3,-52,-10,-51,-6,-50,1,-49,-13,-48,-4,-47,-8,-46,3,-45,-11,-44,-2,-43,-15,-42,-6,-41,0,-40,-9,-39,-4,-38,-12,-37,2,-36,-7,-35,-16,-34,-3,-33,-10,-32,0,-31,-6,-30,-13,-29,-1,-28,-8,-27,-19,-26,-4,-25,-11,-24,1,-23,-7,-22,-3,-21,-14,-20,-5,-19,-9,-18,0,-17,-12,-16,-6,-15,-2,-14,-10,-13,-4,-12,-16,-11,-1,-10,-7,-9,-11,-8,-3,-7,-8,-6,1,-5,-13,-4,-5,-3,-2,-2,-9,-1,-4,0,-15,0,2,1,-6,2,-10,3,-1,4,-5,5,-13,6,-2,7,-8,8,0,9,-11,10,-4,11,-15,12,-1,13,-7,14,-10,15,-3,16,-12,17,-6,18,1,19,-9,20,-15,21,-4,22,-8,23,-1,24,-12,25,-6,26,-10,27,-2,28,-14,29,-7,30,-4,31,-11,32,-8,34,-3,35,-12,36,-6,38,-9,40,-5,
-38,6,-35,12,-33,4,-31,17,-29,9,-27,14,-25,5,-24,22,-22,10,-20,16,-19,3,-18,26,-17,8,-16,19,-15,12,-14,5,-13,24,-12,15,-11,9,-10,29,-10,3,-9,18,-8,11,-7,22,-6,6,-5,14,-4,27,-4,9,-3,17,-2,3,-2,21,-1,12,0,7,0,25,1,15,2,4,3,19,4,10,5,23,6,14,7,6,8,18,9,9,10,27,11,13,12,4,13,20,14,8,15,16,16,2,18,11,20,7,22,13,24,4,26,9,
-64,-7,-60,-3,-56,-10,-52,-4,-48,-9,-44,-5,-40,-14,-36,-2,-32,-8,-28,-3,-24,-12,-20,-1,-16,-9,-12,-3,-8,-13,-5,-6,-2,-1,1,-11,4,-2,7,-13,10,-8,13,-2,16,-6,19,-2,22,-12,25,-3,28,-9,31,-1,34,-7,37,-12,
-62,-12,-58,-6,-54,-1,-50,-8,-46,-13,-42,-3,-38,-7,-34,-11,-30,-5,-26,-9,-22,-10,-18,-6,-14,-13,-10,-1,-6,-10,-3,-7,0,-2,3,-8,6,-5,9,-1,12,-10,15,-13,18,-4,21,-10,24,-5,27,-12,30,-8,33,-2,36,-10,
-28,4,-24,10,-20,3,-16,14,-13,6,-10,16,-7,9,-4,18,-2,11,1,8,3,13,6,20,9,14,12,10,15,22,-18,22,-8,21,0,17,5,5,-22,6,-30,11,8,24,2,26,-6,25];

const catEu = [-134,51,-125,50,-114,40,-108,42,-106,41,-105,52,-103,45,-96,51,-95,48,-93,48,-91,41,-89,45,-88,55,-88,52,-86,33,-84,47,-84,42,-81,46,-81,44,-81,42,-77,46,-80,29,-75,35,-73,31,-71,35,-70,24,-70,22,-70,27,-69,44,-69,41,-67,35,-65,32,-64,56,-63,48,-62,44,-62,21,-62,19,-63,26,-61,47,-59,54,-58,10,-58,27,-56,32,-56,35,-55,45,-52,44,-51,10,-50,51,-51,24,-50,26,-46,48,-44,14,-43,43,-39,10,-35,43,-35,8,-17,38,-13,30,-5,-12,0,-9,3,37,0,21,7,17,22,17,34,12,37,-7,27,-17,20,-29,13,-22,23,-14,25,-6,24,6,21,4,19,13,14,17,9,-14,16,-15,12,-12,
-49,30,-48,19,-47,36,-46,25,-45,32,-44,21,-43,28,-42,35,-41,17,-40,26,-39,31,-38,20,-37,37,-36,24,-35,15,-34,29,-33,22,-32,33,-31,18,-30,26,-29,12,-28,30,-27,21,-26,16,-25,27,-24,19,-23,24,-22,11,-21,28,-20,17,
-19,23,-18,13,-17,20,-16,8,-15,17,-14,25,-13,11,-12,19,-11,5,-10,14,-9,22,-8,9,-7,16,-6,3,-5,12,-4,19,-3,7,-2,13,-1,3,-1,17,0,8,
1,2,2,12,3,-3,4,6,5,-1,6,9,7,-6,8,3,9,-9,10,5,11,-4,12,1,13,-8,14,7,15,-2,16,-10,17,2,18,-6,19,-12,20,-3,21,-9,22,-16,23,-5,25,-11,
-44,27,-42,22,-40,32,-38,27,-36,19,-34,24,-32,17,-30,30,-28,24,-26,19,-24,29,-22,20,-20,25,-18,17,-16,22,-14,13,-12,16,-10,20,-8,12,-6,18,-4,9,-2,16,0,4,2,8,4,0,6,4,8,-6,10,0,12,-3,14,-10,16,-5,18,-2,
-47,23,-41,28,-37,23,-33,27,-29,19,-25,22,-21,15,-19,10,-15,24,-11,13,-7,20,-3,13,1,9,3,2,5,-4,7,1,9,2,11,-8,13,-3,15,-9,17,-12,19,-7,21,-4,22,-12];

// grid[row][col]: data for each element (row) and source (column); null where no panel exists
const grid = [
  [gesNa, tcNa, catNa],
  [gesMg, tcMg, catMg],
  [gesNi, tcNi, catNi],
  [gesBa, tcBa, catBa],
  [null,  tcEu, catEu]
];

const markerStyle = [
  { r: 2.0, fill: "#808080", fillOpacity: 0.15, stroke: "#7a7a7a", sw: 1.0 },
  { r: 1.7, fill: "#0000ff", fillOpacity: 0.25, stroke: "#0000ff", sw: 1.0 },
  { r: 2.6, fill: "#ff0000", fillOpacity: 1, stroke: "none", sw: 0 }
];

const figW = 1177, figH = 1178;
const plotLeft = 135, plotTop = 51.7, pw = 347, ph = 207;
const sansFont = "Lato, 'DejaVu Sans', sans-serif";
const serifFont = "'Liberation Serif', 'DejaVu Serif', serif";

const svg = d3.select("body").append("svg").attr("width", figW).attr("height", figH);
const defs = svg.append("defs");

const fmtY = v => (v < 0 ? "\u2212" : "") + Math.abs(v).toFixed(1);
const fmtX = v => (v < 0 ? "\u2212" : "") + Math.abs(v);

grid.forEach((row, ri) => {
  row.forEach((data, ci) => {
    if (!data) return;
    const x0 = plotLeft + ci * pw, y0 = plotTop + ri * ph;
    const x = d3.scaleLinear().domain([-1.5, 0.5]).range([x0, x0 + pw]);
    const y = d3.scaleLinear().domain([-0.4, 0.6]).range([y0 + ph, y0]);
    const id = `clip-${ri}-${ci}`;
    defs.append("clipPath").attr("id", id)
      .append("rect").attr("x", x0).attr("y", y0).attr("width", pw).attr("height", ph);

    const pts = d3.range(0, data.length, 2).map(i => [data[i] / 100, data[i + 1] / 100]);
    const st = markerStyle[ci];
    const g = svg.append("g");
    g.append("g").attr("clip-path", `url(#${id})`)
      .selectAll("circle").data(pts).join("circle")
      .attr("cx", d => x(d[0])).attr("cy", d => y(d[1]))
      .attr("r", st.r).attr("fill", st.fill).attr("fill-opacity", st.fillOpacity)
      .attr("stroke", st.stroke).attr("stroke-width", st.sw);

    // reference lines at solar values
    g.append("line").attr("x1", x0).attr("x2", x0 + pw).attr("y1", y(0)).attr("y2", y(0))
      .attr("stroke", "#000").attr("stroke-width", 1.8).attr("stroke-dasharray", "7,4");
    g.append("line").attr("x1", x(0)).attr("x2", x(0)).attr("y1", y0).attr("y2", y0 + ph)
      .attr("stroke", "#000").attr("stroke-width", 1.8).attr("stroke-dasharray", "7,4");

    const showY = (ci === 0) || (ri === 4 && ci === 1);
    const showX = (ri === 4) || (ri === 3 && ci === 0);

    const axes = [
      d3.axisLeft(y).tickValues(yTicks).tickSize(-10).tickFormat(showY ? fmtY : ""),
      d3.axisRight(y).tickValues(yTicks).tickSize(-10).tickFormat(""),
      d3.axisTop(x).tickValues(xTicks).tickSize(-10).tickFormat(""),
      d3.axisBottom(x).tickValues(xTicks).tickSize(-10).tickFormat(showX ? fmtX : "")
    ];
    const pos = [[x0, 0], [x0 + pw, 0], [0, y0], [0, y0 + ph]];
    axes.forEach((ax, k) => {
      const a = g.append("g").attr("transform", `translate(${pos[k][0]},${pos[k][1]})`)
        .call(ax.tickSizeOuter(0).tickPadding(20));
      a.select(".domain").remove();
      a.selectAll(".tick line").attr("stroke", "#000").attr("stroke-width", 1.8);
      a.selectAll(".tick text").attr("font-family", serifFont).attr("font-size", 29).attr("fill", "#000");
    });

    g.append("rect").attr("x", x0).attr("y", y0).attr("width", pw).attr("height", ph)
      .attr("fill", "none").attr("stroke", "#000").attr("stroke-width", 2);

    // element label
    if (ci === 0 || (ri === 4 && ci === 1)) {
      g.append("text").attr("x", x0 + 18).attr("y", y0 + 47)
        .attr("font-family", sansFont).attr("font-size", 37).attr("fill", "#000")
        .text(elements[ri]);
    }
  });
});

// column titles
sources.forEach((s, ci) => {
  svg.append("text").attr("x", plotLeft + ci * pw + pw / 2).attr("y", 36)
    .attr("text-anchor", "middle").attr("font-family", sansFont).attr("font-size", 36)
    .attr("fill", "#000").text(s);
});

// axis titles
svg.append("text").attr("x", plotLeft + 1.5 * pw).attr("y", 1163)
  .attr("text-anchor", "middle").attr("font-family", sansFont).attr("font-size", 34)
  .attr("fill", "#000").text("[Fe/H]");
svg.append("text").attr("transform", `translate(38,${plotTop + 2.5 * ph}) rotate(-90)`)
  .attr("text-anchor", "middle").attr("font-family", sansFont).attr("font-size", 34)
  .attr("fill", "#000").text("[X/Fe]");
</script>
</body>
</html>
